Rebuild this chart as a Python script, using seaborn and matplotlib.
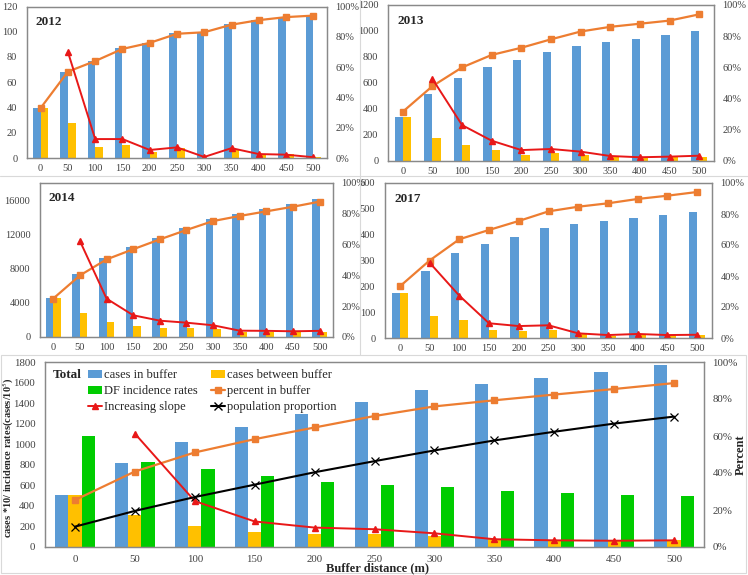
import numpy as np
import pandas as pd
import matplotlib.pyplot as plt
import seaborn as sns
from matplotlib.lines import Line2D
from matplotlib.patches import Patch, Rectangle
from matplotlib.ticker import MultipleLocator, PercentFormatter

# === DATA
distances = ['0', '50', '100', '150', '200', '250', '300', '350', '400', '450', '500']

cases_2012 = [40, 68, 77, 87, 91, 99, 99, 106, 109, 112, 113]
between_2012 = [40, 28, 9, 10, 5, 8, 0, 7, 3, 3, 1]
percent_2012 = [33, 57, 64, 72, 76, 82, 83, 88, 91, 93, 94]
slope_2012 = [np.nan, 70, 12.5, 12.5, 5.3, 7, 0.7, 6.5, 2.6, 2.2, 0.5]

cases_2013 = [336, 513, 638, 723, 777, 836, 887, 918, 938, 967, 1000]
between_2013 = [336, 179, 121, 85, 49, 59, 49, 33, 28, 28, 33]
percent_2013 = [31.6, 48, 60, 68, 72.6, 78, 83, 86, 88, 90, 94]
slope_2013 = [np.nan, 52.6, 23, 13, 7, 7.7, 6, 3.2, 2.4, 2.8, 3.4]

cases_2014 = [4520, 7330, 9200, 10480, 11610, 12780, 13790, 14380, 14920, 15510, 16090]
between_2014 = [4520, 2770, 1790, 1290, 1050, 1050, 935, 620, 620, 550, 590]
percent_2014 = [25, 40, 50.4, 57, 63.4, 69.5, 75.3, 78.6, 81.6, 84.6, 87.9]
slope_2014 = [np.nan, 62.3, 24.9, 14.1, 10.6, 9.3, 7.6, 4.1, 4.0, 3.7, 4.0]

cases_2017 = [173, 258, 330, 364, 392, 425, 441, 453, 466, 477, 489]
between_2017 = [173, 85, 70, 31, 27, 31, 15, 9, 12, 12, 11]
percent_2017 = [33.3, 50, 63.7, 69.7, 75.5, 81.7, 84.7, 86.9, 89.7, 91.8, 94.2]
slope_2017 = [np.nan, 48.6, 27.3, 9.5, 7.7, 8.2, 3.0, 1.9, 2.6, 1.9, 2.1]

cases_total = [507, 815, 1022, 1166, 1293, 1413, 1525, 1590, 1648, 1706, 1774]
between_total = [507, 308, 205, 146, 123, 123, 110, 78, 65, 62, 65]
incidence_total = [1082, 829, 758, 686, 637, 605, 582, 549, 526, 507, 497]
percent_total = [25.4, 40.8, 51.1, 58.3, 64.6, 70.8, 76, 79.3, 82.4, 85.4, 88.6]
population_total = [11, 19.5, 27, 33.7, 40.4, 46.4, 52.2, 57.6, 62.3, 66.7, 70.5]
slope_total = [np.nan, 61.3, 24.8, 13.8, 10.5, 9.6, 7.4, 4.2, 3.6, 3.4, 3.6]

BLUE = '#5B9BD5'
YELLOW = '#FFC000'
GREEN = '#00CC00'
ORANGE = '#ED7D31'
RED = '#E81818'
FRAME = '#898989'

sns.set_style('white')
plt.rcParams['font.family'] = ['Liberation Serif', 'DejaVu Serif']
plt.rcParams['mathtext.fontset'] = 'stix'

W, H = 748, 575
fig = plt.figure(figsize=(W / 100, H / 100), dpi=100)


def px_axes(left, top, right, bottom):
    return fig.add_axes([left / W, 1 - bottom / H, (right - left) / W, (bottom - top) / H])


def style_axes(ax, ax2, pad_y, pad_x, pad_r, size=7.5):
    for a in (ax, ax2):
        for s in a.spines.values():
            s.set_color(FRAME)
            s.set_linewidth(0.9)
    ax.tick_params(axis='y', length=0, labelsize=size, pad=pad_y, colors='#404040')
    ax.tick_params(axis='x', length=0, labelsize=size, pad=pad_x, colors='#404040')
    ax2.tick_params(axis='y', length=0, labelsize=size, pad=pad_r, colors='#404040')
    ax.set_xlabel('')
    ax.set_ylabel('')
    ax2.set_xlabel('')
    ax2.set_ylabel('')
    ax2.set_ylim(0, 100)
    ax2.yaxis.set_major_locator(MultipleLocator(20))
    ax2.yaxis.set_major_formatter(PercentFormatter(xmax=100, decimals=0))
    ax.set_xlim(-0.5, len(distances) - 0.5)


def add_line(ax2, values, color, marker, ms, lw=1.6, mew=1.0):
    d = pd.DataFrame({'pos': np.arange(len(distances)), 'val': values}).dropna()
    sns.lineplot(data=d, x='pos', y='val', ax=ax2, color=color, marker=marker,
                 markersize=ms, markeredgecolor=color, markeredgewidth=mew,
                 linewidth=lw, legend=False)


def plot_year(box, label, cases, between, percent, slope, ymax, ystep):
    ax = px_axes(*box)
    df = pd.DataFrame({'distance': distances,
                       'cases in buffer': cases,
                       'cases between buffer': between})
    df_m = df.melt(id_vars='distance', var_name='series', value_name='value')
    sns.barplot(data=df_m, x='distance', y='value', hue='series', order=distances,
                hue_order=['cases in buffer', 'cases between buffer'],
                palette=[BLUE, YELLOW], width=0.56, saturation=1, linewidth=0,
                ax=ax, legend=False)
    ax.set_ylim(0, ymax)
    ax.yaxis.set_major_locator(MultipleLocator(ystep))
    ax2 = ax.twinx()
    add_line(ax2, percent, ORANGE, 's', 4.5)
    add_line(ax2, slope, RED, '^', 4.5, lw=1.4)
    style_axes(ax, ax2, pad_y=7, pad_x=4, pad_r=6)
    ax.text(0.03, 0.9, label, transform=ax.transAxes, fontsize=9.5,
            fontweight='bold', va='center', ha='left')
    return ax


# === FOUR YEAR PANELS
plot_year((27, 6.5, 327, 158), '2012', cases_2012, between_2012, percent_2012, slope_2012, 120, 20)
plot_year((388, 5, 714, 161), '2013', cases_2013, between_2013, percent_2013, slope_2013, 1200, 200)
plot_year((40, 183, 333, 337), '2014', cases_2014, between_2014, percent_2014, slope_2014, 18000, 4000)
plot_year((385, 183, 712, 338), '2017', cases_2017, between_2017, percent_2017, slope_2017, 600, 100)

# === TOTAL PANEL
ax = px_axes(45, 362, 704, 547)
df = pd.DataFrame({'distance': distances,
                   'cases in buffer': cases_total,
                   'cases between buffer': between_total,
                   'DF incidence rates': incidence_total})
df_m = df.melt(id_vars='distance', var_name='series', value_name='value')
sns.barplot(data=df_m, x='distance', y='value', hue='series', order=distances,
            hue_order=['cases in buffer', 'cases between buffer', 'DF incidence rates'],
            palette=[BLUE, YELLOW, GREEN], width=0.66, saturation=1, linewidth=0,
            ax=ax, legend=False)
ax.set_ylim(0, 1800)
ax.yaxis.set_major_locator(MultipleLocator(200))
ax2 = ax.twinx()
add_line(ax2, percent_total, ORANGE, 's', 4.5)
add_line(ax2, slope_total, RED, '^', 4.5, lw=1.4)
add_line(ax2, population_total, 'black', 'x', 6, lw=1.5, mew=0.9)
style_axes(ax, ax2, pad_y=7, pad_x=6, pad_r=6, size=7.8)

ax.text(0.012, 0.93, 'Total', transform=ax.transAxes, fontsize=9.5,
        fontweight='bold', va='center', ha='left')

leg_handles = [
    Patch(facecolor=BLUE, edgecolor='none'),
    Patch(facecolor=GREEN, edgecolor='none'),
    Line2D([], [], color=RED, marker='^', markersize=4.5, lw=1.4),
    Patch(facecolor=YELLOW, edgecolor='none'),
    Line2D([], [], color=ORANGE, marker='s', markersize=4.5, lw=1.6),
    Line2D([], [], color='black', marker='x', markersize=6, lw=1.5),
]
leg_labels = ['cases in buffer', 'DF incidence rates', 'Increasing slope',
              'cases between buffer', 'percent in buffer', 'population proportion']
ax2.legend(leg_handles, leg_labels, ncol=2, frameon=False, fontsize=9,
           loc='upper left', bbox_to_anchor=(88 / W, 1 - 369 / H),
           bbox_transform=fig.transFigure, borderpad=0, borderaxespad=0,
           handlelength=1.1, handleheight=0.6, handletextpad=0.15,
           columnspacing=1.1, labelspacing=0.32)

fig.text(8 / W, 1 - 458 / H, 'cases *10/ incidence rates(cases/10$^{5}$)',
         rotation=90, fontsize=7.5, fontweight='bold', ha='center', va='center')
fig.text(741 / W, 1 - 455 / H, 'Percent', rotation=90, fontsize=9,
         fontweight='bold', ha='center', va='center')
fig.text(377 / W, 1 - 568 / H, 'Buffer distance (m)', fontsize=9,
         fontweight='bold', ha='center', va='center')

# chart borders between panels
sep = '#D9D9D9'
fig.add_artist(Line2D([360 / W, 360 / W], [1 - 355 / H, 1], transform=fig.transFigure, color=sep, lw=0.8))
fig.add_artist(Line2D([0, 1], [1 - 176 / H, 1 - 176 / H], transform=fig.transFigure, color=sep, lw=0.8))
fig.add_artist(Rectangle((1 / W, 1 - 573 / H), 745 / W, 218 / H, transform=fig.transFigure,
                         fill=False, edgecolor=sep, lw=0.8))

plt.savefig('out.png', dpi=100)
